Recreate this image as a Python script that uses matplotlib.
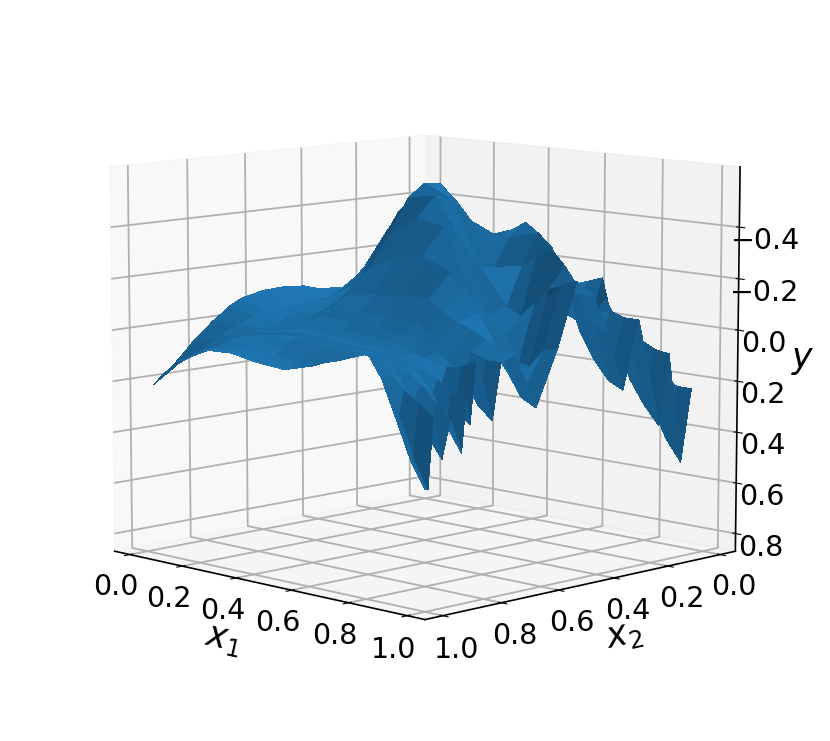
import matplotlib
matplotlib.use("Agg")
import matplotlib.pyplot as plt
import numpy as np
from matplotlib.colors import LightSource

# surface heights, one row per x1 value
x1_vals = [.03, .127, .224, .321, .418, .515, .612, .709, .757, .806, .854, .903, .951, 1]
x2_vals = [.05, .088, .136, .173, .212, .25, .307, .363, .42, .477, .544, .62, .696,
           .743, .772, .8, .829, .848, .862, .877, .915, .943, .972, .99, 1]
y_rows = [
    [.02, .02, .02, .02, .02, .015, -.014, -.05, -.078, -.098, -.106, -.102, -.083, -.055, -.028, -.005, .027, .046, .058, .077, .123, .154, .176, .20, .21],
    [0, -.01, -.03, -.05, -.07, -.10, -.15, -.15, -.10, -.07, -.06, -.05, -.04, -.03, -.02, -.01, .01, .02, .03, .04, .06, .08, .09, .10, .10],
    [-.02, -.05, -.09, -.14, -.18, -.23, -.29, -.33, -.22, -.13, -.08, -.06, -.05, -.03, -.02, -.01, 0, 0, .01, .01, .02, .03, .04, .04, .04],
    [-.03, -.08, -.14, -.20, -.27, -.33, -.42, -.48, -.42, -.28, -.18, -.11, -.07, -.05, -.04, -.03, -.02, -.02, -.01, -.01, .01, .02, .03, .035, .035],
    [-.03, -.09, -.17, -.24, -.31, -.38, -.47, -.54, -.55, -.50, -.36, -.24, -.15, -.11, -.08, -.06, -.04, -.03, -.02, -.01, .02, .04, .05, .055, .055],
    [-.03, -.11, -.22, -.32, -.35, -.33, -.32, -.42, -.50, -.52, -.44, -.30, -.17, -.11, -.08, -.05, -.03, -.02, -.01, 0, .03, .05, .06, .065, .065],
    [.02, -.05, -.16, -.27, -.36, -.40, -.35, -.24, -.25, -.34, -.42, -.32, -.18, -.11, -.07, -.04, -.02, -.01, 0, .01, .03, .03, .03, .035, .035],
    [.08, .03, -.08, -.16, -.14, -.22, -.38, -.26, -.11, -.08, -.16, -.27, -.18, -.10, -.06, -.03, -.01, 0, 0, 0, -.01, -.01, -.02, -.02, -.02],
    [.11, .06, -.06, -.18, -.10, -.14, -.33, -.30, -.08, -.01, -.10, -.20, -.14, -.07, -.03, 0, .01, .01, 0, -.01, -.03, -.03, -.04, -.045, -.045],
    [.14, .10, -.02, -.20, -.05, -.08, -.18, -.34, -.14, .08, 0, -.13, -.11, -.05, -.01, .01, .02, .01, 0, -.01, -.03, -.04, -.04, -.045, -.045],
    [.17, .19, 0, .02, -.13, -.08, -.02, -.28, -.20, .09, .13, -.04, -.09, -.03, .02, .04, .03, .03, .03, .04, .03, .04, .03, .04, .04],
    [.19, .30, .03, .18, -.03, -.10, .08, -.20, -.22, -.18, .07, .07, -.06, -.02, .07, .05, .02, .09, .06, .11, .07, .13, .08, .17, .18],
    [.22, .42, .06, .27, .07, -.08, .15, -.08, -.20, -.24, 0, .16, -.03, 0, .16, .07, .01, .16, .10, .22, .13, .24, .12, .31, .32],
    [.22, .50, .07, .34, .12, -.08, .18, -.05, -.20, -.26, -.02, .19, -.02, 0, .21, .08, -.02, .21, .12, .31, .18, .32, .16, .42, .42],
]
x_ticks = [0.0, 0.2, 0.4, 0.6, 0.8, 1.0]
y_ticks = [-0.4, -0.2, 0.0, 0.2, 0.4, 0.6, 0.8]

plt.rcParams["font.size"] = 20.5
plt.rcParams["grid.linewidth"] = 1.3
plt.rcParams["axes.linewidth"] = 1.2

fig = plt.figure(figsize=(8.3, 7.41), dpi=100)
ax = fig.add_axes([0.0, 0.0, 1.0, 1.0], projection="3d")

X2, X1 = np.meshgrid(x2_vals, x1_vals)
light = LightSource(azdeg=104, altdeg=-68)
ax.plot_surface(X1, X2, np.array(y_rows), color="C0", linewidth=0, antialiased=False,
                rcount=100, ccount=100, lightsource=light)

ax.view_init(elev=189, azim=225)
ax.set_box_aspect((1, 1, 0.88), zoom=0.965)
ax.set_xticks(x_ticks)
ax.set_yticks(x_ticks)
ax.set_zticks(y_ticks)
ax.set_xlim(-0.059, 1.059)
ax.set_ylim(-0.059, 1.059)
ax.set_zlim(-0.633, 0.87)

ax.set_xlabel("$x_1$", fontsize=25, labelpad=12)
ax.set_ylabel("$x_2$", fontsize=25, labelpad=10)
ax.set_zlabel("$y$", fontsize=25, labelpad=8)

fig.savefig("out.png", dpi=100)
